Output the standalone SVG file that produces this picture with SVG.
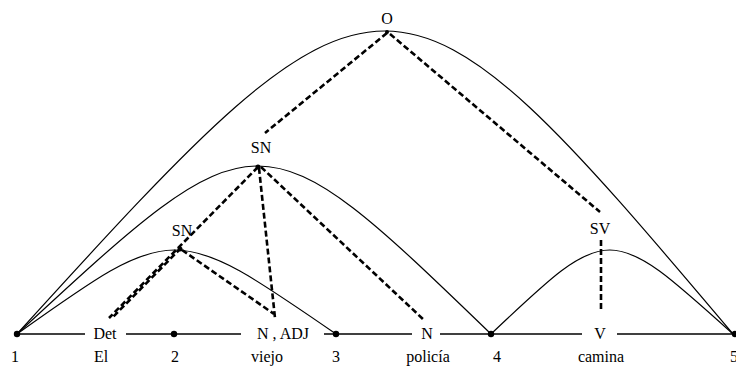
<svg xmlns="http://www.w3.org/2000/svg" width="736" height="371" viewBox="0 0 736 371">
<style>
.t{font-family:'Liberation Serif','Times New Roman',Times,serif;font-size:16px;fill:#000;text-anchor:middle}
.arc{fill:none;stroke:#000;stroke-width:1.2}
.base{stroke:#000;stroke-width:1.5}
.dash{stroke:#000;stroke-width:2.6;stroke-dasharray:6 3;fill:none}
.dot{fill:#000}
</style>
<rect width="736" height="371" fill="#fff"/>
<g id="arcs">
<path class="arc" d="M17,334 C384,-70 392,-70 733,334"/>
<path class="arc" d="M17,334 C259,110 259,110 491,334"/>
<path class="arc" d="M17,334 C174,222 174,222 336,334"/>
<path class="arc" d="M491,334 C609,222 609,222 733,334"/>
</g>
<g id="baseline">
<line class="base" x1="17" y1="334" x2="85" y2="334"/>
<line class="base" x1="126" y1="334" x2="241" y2="334"/>
<line class="base" x1="324" y1="334" x2="412" y2="334"/>
<line class="base" x1="440" y1="334" x2="582" y2="334"/>
<line class="base" x1="617" y1="334" x2="735" y2="334"/>
</g>
<g id="connectors">
<line class="dash" x1="387" y1="33" x2="265" y2="133"/>
<line class="dash" x1="390" y1="34" x2="600" y2="212"/>
<line class="dash" x1="258" y1="167" x2="109" y2="318"/>
<line class="dash" x1="181" y1="248" x2="112" y2="318"/>
<line class="dash" x1="259" y1="168" x2="275" y2="318"/>
<line class="dash" x1="182" y1="250" x2="274" y2="314"/>
<line class="dash" x1="261" y1="167" x2="424" y2="320"/>
<line class="dash" x1="601" y1="240" x2="601" y2="310"/>
</g>
<g id="node-O"><circle class="dot" cx="387" cy="32" r="2"/><text class="t" font-family="Liberation Serif" x="387" y="24">O</text></g>
<g id="node-SN1"><circle class="dot" cx="258" cy="167" r="2.5"/><text class="t" font-family="Liberation Serif" x="261" y="153">SN</text></g>
<g id="node-SN2"><circle class="dot" cx="180" cy="249" r="2.5"/><text class="t" font-family="Liberation Serif" x="182" y="236">SN</text></g>
<g id="node-SV"><text class="t" font-family="Liberation Serif" x="600" y="234">SV</text></g>
<g id="node-1"><circle class="dot" cx="17" cy="334" r="3.2"/><text class="t" font-family="Liberation Serif" x="15" y="362">1</text></g>
<g id="node-2"><circle class="dot" cx="174" cy="334" r="3.2"/><text class="t" font-family="Liberation Serif" x="175" y="362">2</text></g>
<g id="node-3"><circle class="dot" cx="336" cy="334" r="3.2"/><text class="t" font-family="Liberation Serif" x="336" y="362">3</text></g>
<g id="node-4"><circle class="dot" cx="491" cy="334" r="3.2"/><text class="t" font-family="Liberation Serif" x="497" y="362">4</text></g>
<g id="node-5"><circle class="dot" cx="735" cy="334" r="3.2"/><text class="t" font-family="Liberation Serif" x="734" y="362">5</text></g>
<g id="word-El"><text class="t" font-family="Liberation Serif" x="105" y="339">Det</text><text class="t" font-family="Liberation Serif" x="101" y="362">El</text></g>
<g id="word-viejo"><text class="t" font-family="Liberation Serif" x="283" y="339">N , ADJ</text><text class="t" font-family="Liberation Serif" x="267" y="362">viejo</text></g>
<g id="word-policia"><text class="t" font-family="Liberation Serif" x="427" y="339">N</text><text class="t" font-family="Liberation Serif" x="428" y="362">policía</text></g>
<g id="word-camina"><text class="t" font-family="Liberation Serif" x="600" y="339">V</text><text class="t" font-family="Liberation Serif" x="601" y="362">camina</text></g>
</svg>
